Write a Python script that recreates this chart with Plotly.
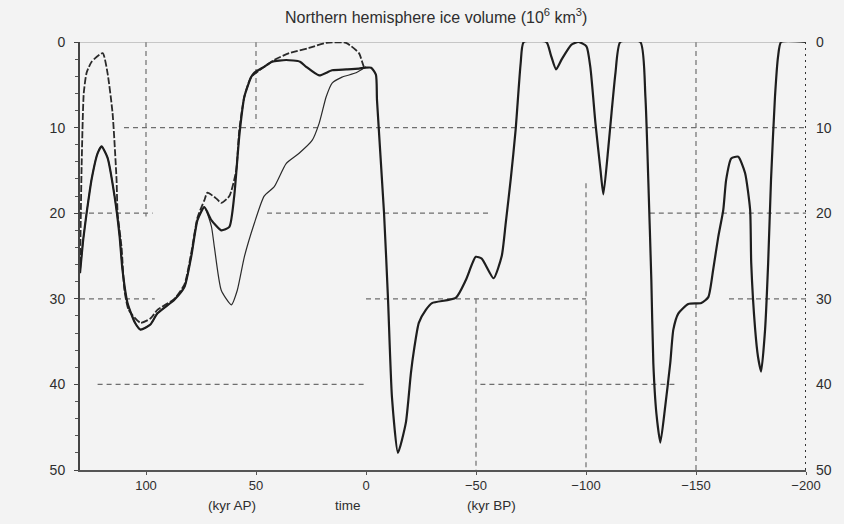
import plotly.graph_objects as go

# ---------------- data ----------------
# past record (kyr BP shown as negative time)
past_x = [0, -2.3, -4.5, -5, -8.2, -10, -11.8, -14.5, -18.1, -20.4, -21.8, -24, -27.2, -30,
          -40.8, -45.4, -49.9, -52.6, -58, -61.7, -63.5, -65.8, -68, -70.3, -71.7, -82, -84,
          -86.4, -89, -93.4, -96.6, -100.2, -102, -104.3, -106.6, -107.9, -110.2, -111.6,
          -113.4, -115.6, -124.7, -127, -128.3, -129.7, -130.6, -132, -133.8, -136, -138.3,
          -139.7, -142, -146.5, -152.4, -155.6, -157.8, -160.1, -162.4, -163.7, -166, -169.2,
          -172.3, -174.6, -175.1, -176.9, -178.2, -179.6, -181.4, -182.8, -184.1, -185.9,
          -187.3, -188.7, -200]
past_y = [3, 3, 3.8, 6.8, 20, 30, 41.5, 48, 44.5, 38.7, 36, 32.8, 31.3, 30.5,
          29.9, 27.8, 25.1, 25.3, 27.6, 25, 21.2, 16, 10.3, 2.5, 0, 0, 1.5,
          3.2, 2, 0.3, 0, 0.5, 3, 9.5, 15, 17.8, 12.2, 8.3,
          3.6, 0, 0, 6.4, 16, 27.8, 37.5, 43.4, 46.8, 42.6, 37.5,
          33.6, 31.7, 30.6, 30.5, 29.8, 26.6, 22.8, 19.6, 16.1, 13.6, 13.4,
          15.3, 19.6, 25.8, 33.6, 36.8, 38.5, 33.6, 25.8, 16.1, 6.4,
          1.7, 0, 0]

# future scenario, thick solid
thick_x = [130, 128.5, 127, 124.7, 122, 120.2, 117.5, 114.3, 112, 110.7, 108.4, 105, 102.5, 98,
           94.8, 87.1, 82.5, 79.4, 76.6, 73.5, 70.3, 65.8, 62.1, 59.9, 57.6, 55.3, 52.2, 50.8,
           46.3, 42.6, 36.3, 30, 27.2, 21.3, 15.4, 9, 3.2, 0]
thick_y = [27, 23, 20, 16, 13, 12.2, 13.5, 18, 22.7, 26.6, 30.5, 32.8, 33.6, 33,
           31.7, 30.1, 28.6, 25, 20.8, 19.3, 20.8, 22, 21.6, 18, 11, 6.4, 4.1, 3.6,
           2.9, 2.3, 2.1, 2.3, 2.9, 3.9, 3.3, 3.2, 3.1, 3]

# future scenario, dashed
dash_x = [130, 129.3, 128.3, 127, 124.7, 119.7, 117.5, 115.2, 113.4, 112.9, 111.1, 109.8, 107.9,
          102.5, 98, 94.8, 87.1, 82.5, 79.4, 76.6, 73.5, 72.1, 68, 65.8, 62.1, 59, 57.6, 55.3,
          52.2, 46.3, 41.7, 34.9, 25.9, 18.1, 9.1, 3.2, 0.9, 0]
dash_y = [27, 15, 6, 3.6, 2.3, 1.3, 3.6, 8.3, 16, 20, 24, 29, 31.3,
          32.8, 32.3, 31.3, 30, 28.3, 24.6, 20.5, 18.5, 17.6, 18.3, 18.8, 18, 15, 10.3, 6.4,
          4.1, 2.9, 2.1, 1.3, 0.7, 0.1, 0.1, 1.3, 2.9, 3]

# future scenario, thin solid
thin_x = [130, 128.5, 127, 124.7, 122, 120.2, 117.5, 114.3, 112, 110.7, 108.4, 105, 102.5, 98,
          94.8, 87.1, 82.5, 79.4, 76.6, 73.5, 70.3, 68.9, 65.8, 61.2, 58.5, 55.3, 50.8, 46.3,
          41.7, 36.3, 30.4, 24.5, 21.3, 18.1, 15.4, 10.9, 4.5, 0]
thin_y = [27, 23, 20, 16, 13, 12.2, 13.5, 18, 22.7, 26.6, 30.5, 32.8, 33.6, 33,
          31.7, 30.1, 28.6, 25, 20.8, 19.3, 21.5, 24, 29, 30.7, 29, 25.1, 21.2, 18,
          16.9, 14.2, 13, 11.5, 9.5, 6.4, 4.8, 4.1, 3.6, 2.9]

x_ticks = [100, 50, 0, -50, -100, -150, -200]
y_ticks = [0, 10, 20, 30, 40, 50]

# partial grid segments of the original figure: (value, start, end)
h_grid = [(10, 110, -200), (20, 130, 97), (20, 45, -57), (20, -129, -200),
          (30, 130, 96), (30, 0, -100), (30, -165, -200), (40, 122, 0), (40, -52, -141)]
v_grid = [(100, 0, 20.4), (50, 0, 9.5), (-50, 30, 50), (-100, 16.5, 50), (-150, 0, 50)]

FONT = "Liberation Sans, Arial, sans-serif"
INK = "#1e1e1e"
TXT = "#2e2e2e"

fig = go.Figure()

line_shape = dict(shape="spline", smoothing=0.55)
fig.add_trace(go.Scatter(x=thin_x, y=thin_y, mode="lines",
                         line=dict(color="#2a2a2a", width=1.2, **line_shape)))
fig.add_trace(go.Scatter(x=dash_x, y=dash_y, mode="lines",
                         line=dict(color="#2a2a2a", width=1.8, dash="7px,2px", **line_shape)))
fig.add_trace(go.Scatter(x=thick_x, y=thick_y, mode="lines",
                         line=dict(color=INK, width=2.2, **line_shape)))
fig.add_trace(go.Scatter(x=past_x, y=past_y, mode="lines",
                         line=dict(color=INK, width=2.2, **line_shape)))
# carrier for the right-hand axis
fig.add_trace(go.Scatter(x=[0], y=[0], yaxis="y2", mode="markers",
                         marker=dict(opacity=0), hoverinfo="skip"))

shapes = []
for val, a, b in h_grid:
    shapes.append(dict(type="line", xref="x", yref="y", x0=a, x1=b, y0=val, y1=val,
                       line=dict(color="#6e6e6e", width=1.2, dash="5px,4px"), layer="below"))
for val, a, b in v_grid:
    shapes.append(dict(type="line", xref="x", yref="y", x0=val, x1=val, y0=a, y1=b,
                       line=dict(color="#6e6e6e", width=1.2, dash="5px,4px"), layer="below"))
# top border (thin grey) and dotted right border
shapes.append(dict(type="line", xref="x", yref="y", x0=130, x1=-200, y0=0, y1=0,
                   line=dict(color="#9a9a9a", width=1.2), layer="below"))
shapes.append(dict(type="line", xref="x", yref="y", x0=-200, x1=-200, y0=0, y1=50,
                   line=dict(color="#333333", width=2, dash="2px,4px"), layer="above"))

annotations = [
    dict(text="Northern hemisphere ice volume (10<sup>6</sup> km<sup>3</sup>)",
         xref="paper", yref="paper", x=0.49, y=1.06, showarrow=False,
         xanchor="center", yanchor="middle", font=dict(size=16, color=TXT, family=FONT)),
    dict(text="(kyr AP)", xref="x", yref="paper", x=60.8, y=-0.083, showarrow=False,
         xanchor="center", yanchor="middle", font=dict(size=13.5, color=TXT, family=FONT)),
    dict(text="time", xref="x", yref="paper", x=8.2, y=-0.083, showarrow=False,
         xanchor="center", yanchor="middle", font=dict(size=13.5, color=TXT, family=FONT)),
    dict(text="(kyr BP)", xref="x", yref="paper", x=-57, y=-0.083, showarrow=False,
         xanchor="center", yanchor="middle", font=dict(size=13.5, color=TXT, family=FONT)),
]

fig.update_layout(
    width=844, height=524,
    margin=dict(l=80, r=36, t=42, b=54),
    paper_bgcolor="#f3f3f3", plot_bgcolor="#f3f3f3",
    showlegend=False,
    font=dict(family=FONT, size=13, color=TXT),
    xaxis=dict(range=[130, -200], tickvals=x_ticks, showgrid=False, zeroline=False,
               showline=True, linecolor="#555", linewidth=1.5, ticks="outside",
               ticklen=3, tickcolor="#555", ticklabelstandoff=0,
               tickfont=dict(size=13, color=TXT)),
    yaxis=dict(range=[50, 0], tickvals=y_ticks, showgrid=False, zeroline=False,
               showline=True, linecolor="#444", linewidth=2, ticks="outside", ticklen=4,
               tickcolor="#444", ticklabelstandoff=6,
               minor=dict(dtick=2, ticks="outside", ticklen=3, tickcolor="#555"),
               tickfont=dict(size=14, color=TXT)),
    yaxis2=dict(range=[50, 0], tickvals=y_ticks, overlaying="y", side="right",
                showgrid=False, zeroline=False, showline=False, ticks="",
                ticklabelstandoff=9, tickfont=dict(size=14, color=TXT)),
    shapes=shapes,
    annotations=annotations,
)

fig.write_html("out.html")
